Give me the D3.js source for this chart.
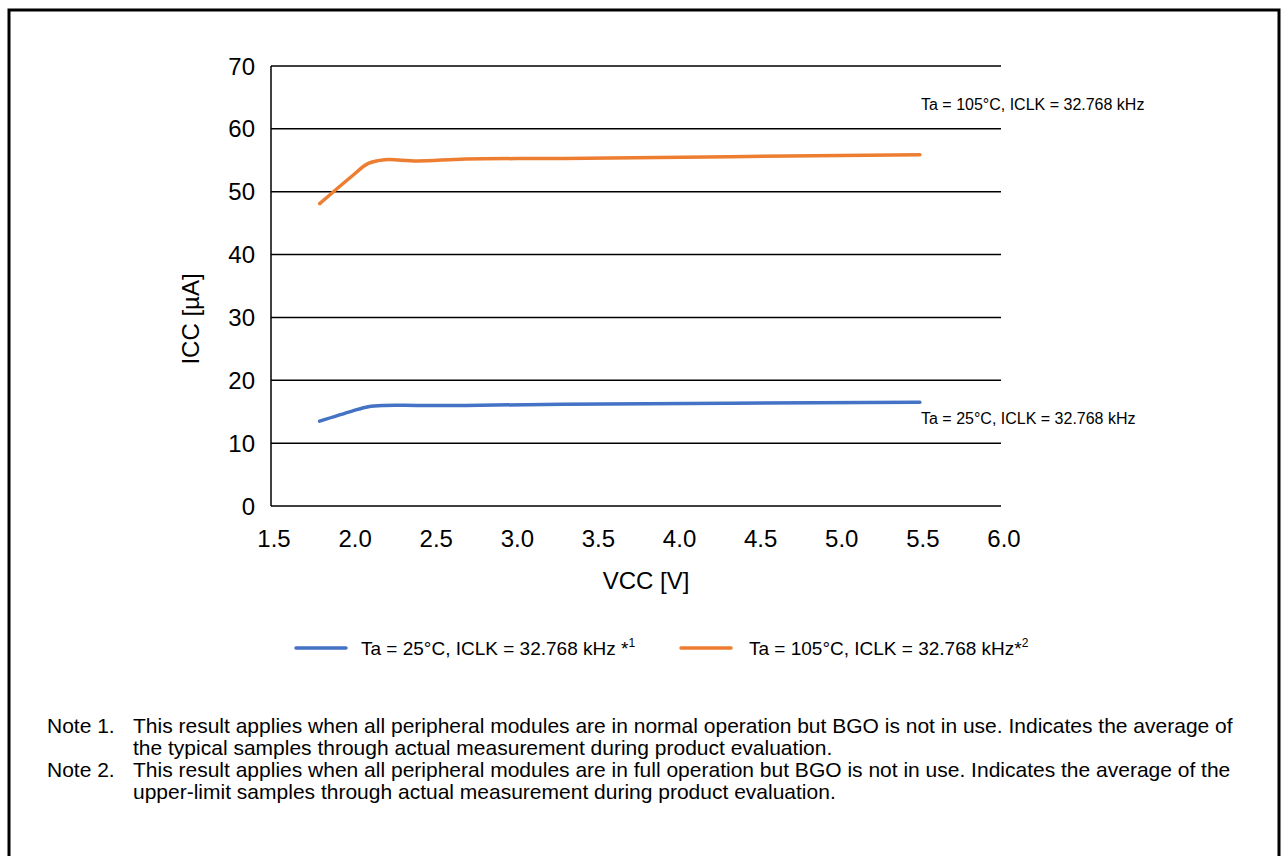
<!DOCTYPE html>
<html>
<head>
<meta charset="utf-8">
<script src="https://cdn.jsdelivr.net/npm/d3@7"></script>
<style>
  body { margin: 0; background: #fff; }
  svg { display: block; font-family: "Liberation Sans", Arial, sans-serif; }
</style>
</head>
<body>
<div id="chart"></div>
<script>
// data
const vcc = [1.8, 2.0, 2.1, 2.2, 2.4, 2.7, 3.3, 5.5];
const icc25 = [13.5, 15.1, 15.8, 16.0, 16.0, 16.0, 16.2, 16.5];
const icc105 = [48.1, 52.5, 54.5, 55.1, 54.9, 55.2, 55.3, 55.9];
const xTicks = [1.5, 2.0, 2.5, 3.0, 3.5, 4.0, 4.5, 5.0, 5.5, 6.0];
const yTicks = [0, 10, 20, 30, 40, 50, 60, 70];
const seriesNames = ["Ta = 25°C, ICLK = 32.768 kHz", "Ta = 105°C, ICLK = 32.768 kHz"];
const seriesColors = ["#4472c4", "#ed7d31"];
const notes = [
  ["Note 1.", "This result applies when all peripheral modules are in normal operation but BGO is not in use. Indicates the average of",
   "the typical samples through actual measurement during product evaluation."],
  ["Note 2.", "This result applies when all peripheral modules are in full operation but BGO is not in use. Indicates the average of the",
   "upper-limit samples through actual measurement during product evaluation."]
];

let W = 1282, H = 856,
  plot = {left: 271, right: 1001, top: 66, bottom: 506};

let svg = d3.select("#chart").append("svg").attr("width", W).attr("height", H);

// outer frame
svg.append("rect")
  .attr("x", 9).attr("y", 10)
  .attr("width", 1270).attr("height", 870)
  .attr("fill", "none").attr("stroke", "#000").attr("stroke-width", 3);

let x = d3.scaleLinear().domain([1.5, 6.0]).range([plot.left, plot.right]);
let y = d3.scaleLinear().domain([0, 70]).range([plot.bottom, plot.top]);

// horizontal grid
svg.append("g").selectAll("line").data(yTicks).enter().append("line")
  .attr("x1", plot.left).attr("x2", plot.right)
  .attr("y1", d => y(d)).attr("y2", d => y(d))
  .attr("stroke", "#000").attr("stroke-width", 1.5);

// y axis line
svg.append("line")
  .attr("x1", plot.left).attr("x2", plot.left)
  .attr("y1", plot.top).attr("y2", plot.bottom)
  .attr("stroke", "#000").attr("stroke-width", 1.5);

// tick labels
svg.append("g").selectAll("text").data(yTicks).enter().append("text")
  .attr("x", plot.left - 16).attr("y", d => y(d) + 8.5)
  .attr("text-anchor", "end")
  .style("font-size", "24px").text(d => d);

svg.append("g").selectAll("text").data(xTicks).enter().append("text")
  .attr("x", d => x(d) + 3).attr("y", plot.bottom + 41)
  .attr("text-anchor", "middle")
  .style("font-size", "24px").text(d => d.toFixed(1));

// axis titles
svg.append("text")
  .attr("x", 646).attr("y", 589)
  .attr("text-anchor", "middle").style("font-size", "24px").text("VCC [V]");
svg.append("text")
  .attr("transform", "translate(199,319) rotate(-90)")
  .attr("text-anchor", "middle").style("font-size", "24px").text("ICC [µA]");

// series
let line = d3.line().x(d => x(d[0])).y(d => y(d[1])).curve(d3.curveCatmullRom.alpha(0.5));
[icc25, icc105].forEach(function(vals, si){
  svg.append("path")
    .datum(vcc.map((v, i) => [v, vals[i]]))
    .attr("d", line)
    .attr("fill", "none")
    .attr("stroke", seriesColors[si])
    .attr("stroke-width", 3.5)
    .attr("stroke-linecap", "round");
});

// in-plot annotations
svg.append("text").attr("x", 921).attr("y", 110)
  .style("font-size", "16px").text(seriesNames[1]);
svg.append("text").attr("x", 921).attr("y", 424)
  .style("font-size", "16px").text(seriesNames[0]);

// legend
let legendX = [296, 681], legendTextX = [361, 749];
seriesNames.forEach(function(nm, i){
  svg.append("line")
    .attr("x1", legendX[i]).attr("x2", legendX[i] + 50)
    .attr("y1", 648).attr("y2", 648)
    .attr("stroke", seriesColors[i]).attr("stroke-width", 3.5)
    .attr("stroke-linecap", "round");
  let t = svg.append("text").attr("x", legendTextX[i]).attr("y", 655)
    .style("font-size", "19px");
  t.append("tspan").text(nm + (i === 0 ? " *" : "*"));
  t.append("tspan").attr("dy", -8).style("font-size", "12px").text(i + 1);
});

// notes
notes.forEach(function(n, i){
  let by = 732.5 + i * 44;
  svg.append("text").attr("x", 47).attr("y", by).style("font-size", "21px").text(n[0]);
  svg.append("text").attr("x", 133).attr("y", by).style("font-size", "21px").text(n[1]);
  svg.append("text").attr("x", 133).attr("y", by + 22).style("font-size", "21px").text(n[2]);
});
</script>
</body>
</html>
